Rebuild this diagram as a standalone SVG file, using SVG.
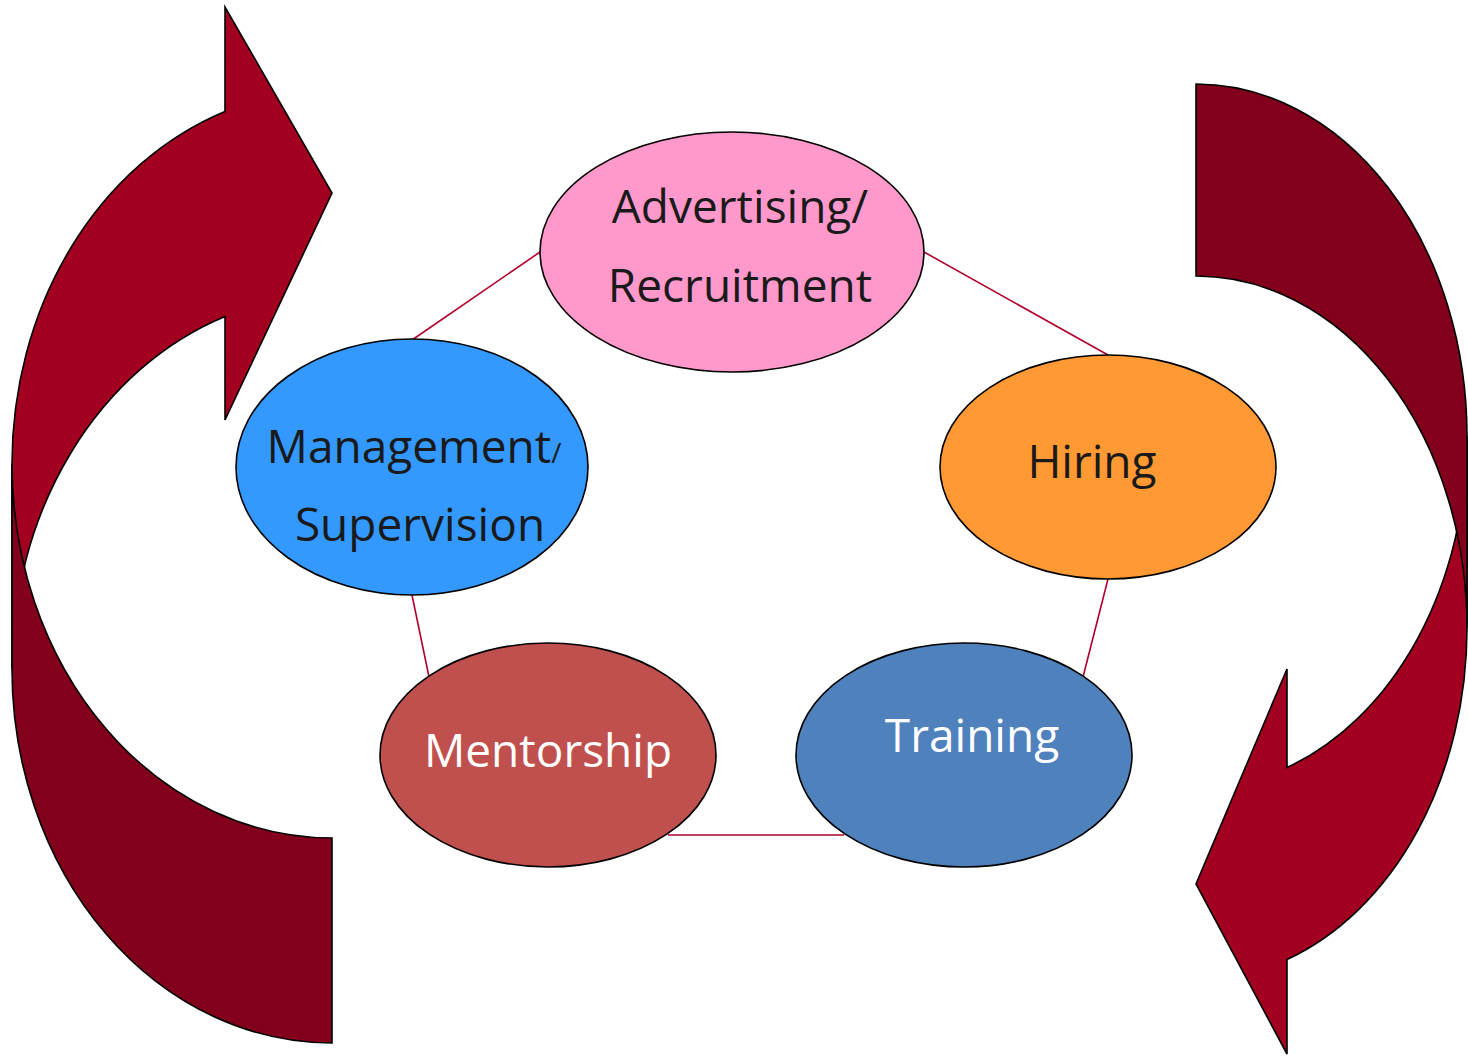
<svg xmlns="http://www.w3.org/2000/svg" width="1468" height="1057" viewBox="0 0 1468 1057">
<style>
.front{fill:#A30021;stroke:#000;stroke-width:1.6;stroke-linejoin:miter}
.back{fill:#82001C;stroke:#000;stroke-width:1.6}
.node{stroke:#000;stroke-width:1.6}
.conn{stroke:#B0002C;stroke-width:1.6;fill:none}
.lbl{font-family:"Open Sans","Noto Sans",sans-serif;font-size:46px;text-anchor:middle;fill:#1A1A1A}
.w{fill:#FFFFFF}
</style>
<rect width="1468" height="1057" fill="#FFFFFF"/>
<g id="arrow-left">
<path class="front" d="M225,111.5 L225,7 L332,193 L225,420 L225,316.5 A320,374 0 0 0 12,669 L12,464 A320,374 0 0 1 225,111.5 Z"/>
<path class="back" d="M332,838 A320,374 0 0 1 12,464 L12,669 A320,374 0 0 0 332,1043 Z"/>
</g>
<g id="arrow-right">
<path class="front" d="M1287,959.5 L1287,1054 L1196,884 L1287,669 L1287,767.5 A271,352 0 0 0 1467,436 L1467,628 A271,352 0 0 1 1287,959.5 Z"/>
<path class="back" d="M1196,84 A271,352 0 0 1 1467,436 L1467,628 A271,352 0 0 0 1196,276 Z"/>
</g>
<g id="connectors">
<line class="conn" x1="540" y1="252" x2="412" y2="340"/>
<line class="conn" x1="924" y1="252" x2="1108" y2="355"/>
<line class="conn" x1="1108" y1="579" x2="1083" y2="677"/>
<line class="conn" x1="412" y1="595" x2="429" y2="677"/>
<line class="conn" x1="668" y1="835" x2="844" y2="835"/>
</g>
<g id="node-advertising">
<ellipse class="node" cx="732" cy="252" rx="192" ry="120" fill="#FF99CC"/>
<text class="lbl" x="740" y="223">Advertising/</text>
<text class="lbl" x="740" y="302">Recruitment</text>
</g>
<g id="node-hiring">
<ellipse class="node" cx="1108" cy="467" rx="168" ry="112" fill="#FF9933"/>
<text class="lbl" x="1092" y="478">Hiring</text>
</g>
<g id="node-training">
<ellipse class="node" cx="964" cy="755" rx="168" ry="112" fill="#4F81BD"/>
<text class="lbl w" x="972" y="752">Training</text>
</g>
<g id="node-mentorship">
<ellipse class="node" cx="548" cy="755" rx="168" ry="112" fill="#C0504D"/>
<text class="lbl w" x="548" y="767">Mentorship</text>
</g>
<g id="node-management">
<ellipse class="node" cx="412" cy="467" rx="176" ry="128" fill="#3399FF"/>
<text class="lbl" x="414" y="463">Management<tspan font-size="28">/</tspan></text>
<text class="lbl" x="420" y="541">Supervision</text>
</g>
</svg>
